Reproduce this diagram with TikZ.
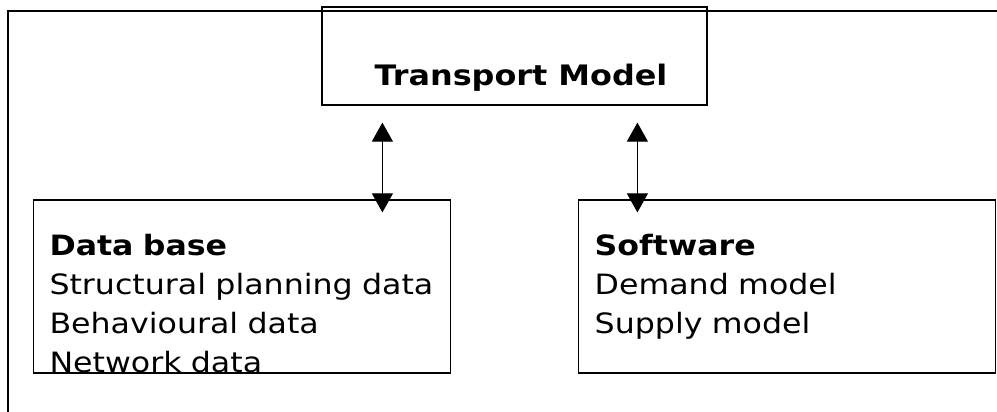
\documentclass[tikz,border=0pt]{standalone}
\usepackage{fontspec}
\setmainfont{DejaVu Sans}[FakeStretch=1.13]
\usetikzlibrary{
    arrows.meta,
    positioning,
}
\tikzstyle{block} = [rectangle, draw, line width=0.6pt, inner xsep=8pt, inner ysep=0pt,
    text width=192.5pt, align=left, text height=27.5pt, text depth=59pt,
    font=\fontsize{14}{19.6}\selectfont]
\tikzstyle{model} = [rectangle, draw, line width=0.6pt, inner ysep=0pt,
    minimum width=192.5pt, text height=39pt, text depth=10pt,
    font=\fontsize{14.1}{19}\selectfont\bfseries]
\tikzstyle{line} = [draw, line width=0.5pt,
    {Triangle[width=10.5pt,length=9.5pt]}-{Triangle[width=10.5pt,length=9.5pt]},
    shorten <=8.5pt, shorten >=-6.5pt]

\begin{document}
\begin{tikzpicture}[x=0.5pt, y=-0.5pt, node distance=63.5pt]
        \useasboundingbox (0,0) rectangle (997,412);
        % Frame
        \draw [line width=0.9pt] (8,430) -- (8,11) -- (1010,11);
        % Place nodes
        \node [model] (transport) at (514.5,56) {\hspace*{6.5pt}Transport Model};
        \node [block] (database) at (242,286.5) {\textbf{Data base}\\Structural planning data\\Behavioural data\\Network data};
        \node [block, right=of database] (software) {\textbf{Software}\\Demand model\\Supply model};
        % Draw edges
        \path [line] ([xshift=30.5pt]transport.south west) -- ([xshift=30.5pt]transport.south west |- database.north);
        \path [line] ([xshift=158pt]transport.south west) -- ([xshift=158pt]transport.south west |- software.north);
    \end{tikzpicture}
\end{document}
